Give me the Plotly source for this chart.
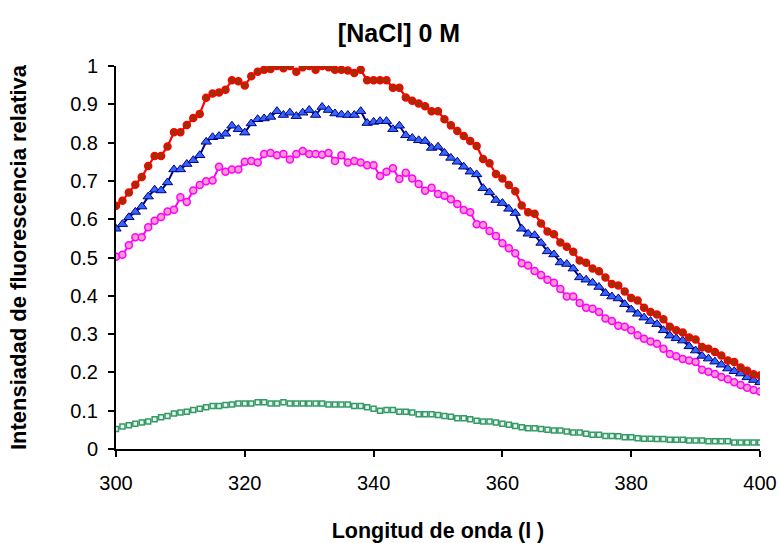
import plotly.graph_objects as go

wavelength = list(range(300, 401))

red_series = [
    0.635, 0.648, 0.670, 0.690, 0.710, 0.739, 0.765, 0.765, 0.790, 0.827,
    0.827, 0.846, 0.864, 0.875, 0.917, 0.928, 0.931, 0.938, 0.963, 0.960,
    0.949, 0.973, 0.985, 0.990, 0.992, 1.000, 0.994, 1.000, 0.985, 0.997,
    1.000, 0.990, 1.000, 0.997, 0.990, 0.990, 0.988, 0.982, 0.990, 0.963,
    0.963, 0.963, 0.963, 0.943, 0.943, 0.918, 0.909, 0.902, 0.895, 0.882,
    0.882, 0.861, 0.845, 0.830, 0.817, 0.804, 0.791, 0.757, 0.746, 0.718,
    0.706, 0.689, 0.673, 0.636, 0.618, 0.614, 0.589, 0.568, 0.561, 0.539,
    0.528, 0.515, 0.492, 0.486, 0.471, 0.464, 0.448, 0.431, 0.427, 0.411,
    0.394, 0.388, 0.369, 0.358, 0.351, 0.339, 0.319, 0.310, 0.304, 0.291,
    0.286, 0.266, 0.262, 0.253, 0.244, 0.231, 0.227, 0.213, 0.204, 0.195,
    0.192,
]

blue_series = [
    0.575, 0.587, 0.605, 0.619, 0.633, 0.659, 0.677, 0.675, 0.696, 0.730,
    0.730, 0.744, 0.754, 0.767, 0.802, 0.814, 0.817, 0.823, 0.844, 0.835,
    0.826, 0.850, 0.861, 0.863, 0.867, 0.882, 0.872, 0.878, 0.869, 0.878,
    0.885, 0.872, 0.893, 0.885, 0.876, 0.873, 0.872, 0.872, 0.882, 0.851,
    0.854, 0.856, 0.856, 0.835, 0.844, 0.819, 0.812, 0.806, 0.804, 0.786,
    0.789, 0.773, 0.760, 0.750, 0.737, 0.724, 0.717, 0.681, 0.670, 0.650,
    0.642, 0.627, 0.616, 0.575, 0.562, 0.558, 0.538, 0.516, 0.508, 0.487,
    0.483, 0.471, 0.448, 0.442, 0.434, 0.423, 0.407, 0.398, 0.393, 0.378,
    0.364, 0.353, 0.343, 0.334, 0.326, 0.310, 0.296, 0.289, 0.283, 0.268,
    0.257, 0.243, 0.236, 0.228, 0.220, 0.210, 0.203, 0.197, 0.187, 0.180,
    0.174,
]

pink_series = [
    0.502, 0.507, 0.532, 0.553, 0.553, 0.579, 0.596, 0.606, 0.620, 0.625,
    0.657, 0.645, 0.675, 0.689, 0.699, 0.701, 0.737, 0.724, 0.730, 0.730,
    0.750, 0.752, 0.748, 0.770, 0.773, 0.767, 0.770, 0.756, 0.770, 0.778,
    0.770, 0.770, 0.768, 0.773, 0.752, 0.767, 0.748, 0.752, 0.748, 0.741,
    0.741, 0.713, 0.724, 0.733, 0.705, 0.721, 0.706, 0.692, 0.674, 0.682,
    0.666, 0.661, 0.652, 0.640, 0.624, 0.618, 0.587, 0.585, 0.569, 0.556,
    0.537, 0.524, 0.511, 0.485, 0.479, 0.465, 0.454, 0.442, 0.434, 0.418,
    0.398, 0.398, 0.381, 0.369, 0.366, 0.358, 0.341, 0.334, 0.322, 0.319,
    0.310, 0.297, 0.288, 0.281, 0.275, 0.262, 0.248, 0.242, 0.235, 0.231,
    0.227, 0.207, 0.202, 0.196, 0.188, 0.182, 0.174, 0.167, 0.160, 0.154,
    0.150,
]

green_series = [
    0.052, 0.059, 0.062, 0.066, 0.069, 0.072, 0.078, 0.083, 0.086, 0.093,
    0.095, 0.097, 0.102, 0.105, 0.109, 0.112, 0.112, 0.115, 0.116, 0.119,
    0.119, 0.119, 0.122, 0.122, 0.119, 0.119, 0.122, 0.119, 0.119, 0.119,
    0.119, 0.119, 0.119, 0.116, 0.116, 0.116, 0.116, 0.112, 0.112, 0.109,
    0.105, 0.100, 0.102, 0.102, 0.097, 0.097, 0.095, 0.091, 0.091, 0.091,
    0.089, 0.086, 0.084, 0.080, 0.080, 0.078, 0.074, 0.072, 0.072, 0.069,
    0.066, 0.063, 0.060, 0.057, 0.054, 0.054, 0.052, 0.050, 0.048, 0.048,
    0.046, 0.043, 0.043, 0.040, 0.037, 0.037, 0.034, 0.034, 0.033, 0.031,
    0.031, 0.028, 0.027, 0.027, 0.026, 0.026, 0.024, 0.024, 0.024, 0.022,
    0.022, 0.022, 0.020, 0.020, 0.020, 0.020, 0.017, 0.017, 0.017, 0.017,
    0.017,
]

x_ticks = [300, 320, 340, 360, 380, 400]
y_ticks = [0, 0.1, 0.2, 0.3, 0.4, 0.5, 0.6, 0.7, 0.8, 0.9, 1]
y_tick_labels = ["0", "0.1", "0.2", "0.3", "0.4", "0.5", "0.6", "0.7", "0.8", "0.9", "1"]

FONT = "Arial, 'Liberation Sans', sans-serif"

fig = go.Figure()

fig.add_trace(go.Scatter(
    x=wavelength, y=green_series, mode="markers",
    marker=dict(symbol="square", size=5, color="#e8f5ec",
                line=dict(color="#339966", width=1.5)),
    showlegend=False,
))
fig.add_trace(go.Scatter(
    x=wavelength, y=pink_series, mode="lines+markers",
    line=dict(color="#FF00FF", width=2),
    marker=dict(symbol="circle", size=7, color="#FF99CC",
                line=dict(color="#FF00FF", width=1.5)),
    showlegend=False,
))
fig.add_trace(go.Scatter(
    x=wavelength, y=blue_series, mode="lines+markers",
    line=dict(color="#000080", width=2),
    marker=dict(symbol="triangle-up", size=9, color="#3366FF",
                line=dict(color="#000080", width=1)),
    showlegend=False,
))
fig.add_trace(go.Scatter(
    x=wavelength, y=red_series, mode="lines+markers",
    line=dict(color="#FF0000", width=2.2),
    marker=dict(symbol="circle", size=7, color="#993300",
                line=dict(color="#FF0000", width=1.5)),
    showlegend=False,
))

fig.update_layout(
    width=780, height=543,
    margin=dict(l=116, r=20, t=66, b=94),
    paper_bgcolor="white", plot_bgcolor="white",
    font=dict(family=FONT, color="black", size=20),
    title=dict(text="<b>[NaCl] 0 M</b>", x=0.5115, xanchor="center",
               y=0.938, yanchor="middle", font=dict(size=25, family=FONT)),
    xaxis=dict(
        range=[300, 400], tickvals=x_ticks, ticks="outside", ticklen=6,
        tickwidth=2, tickcolor="black", showline=True, linecolor="black",
        linewidth=2, showgrid=False, zeroline=False,
        tickfont=dict(size=20, family=FONT), ticklabelstandoff=9,
        title=dict(text="<b>Longitud de onda (l )</b>", standoff=31,
                   font=dict(size=21.5, family=FONT)),
        automargin=False,
    ),
    yaxis=dict(
        range=[0, 1], tickvals=y_ticks, ticktext=y_tick_labels,
        ticks="outside", ticklen=6, tickwidth=2, tickcolor="black",
        showline=True, linecolor="black", linewidth=2, showgrid=False,
        zeroline=False, tickfont=dict(size=20, family=FONT),
        ticklabelstandoff=6,
        title=dict(text="<b>Intensiadad de fluorescencia relativa</b>",
                   standoff=37, font=dict(size=22, family=FONT)),
        automargin=False,
    ),
)

# remove the browser's default 8px page margin so the 780x543 figure fills the window
fig.write_html("out.html", config={"displayModeBar": False},
               post_script="document.body.style.margin='0px';")
